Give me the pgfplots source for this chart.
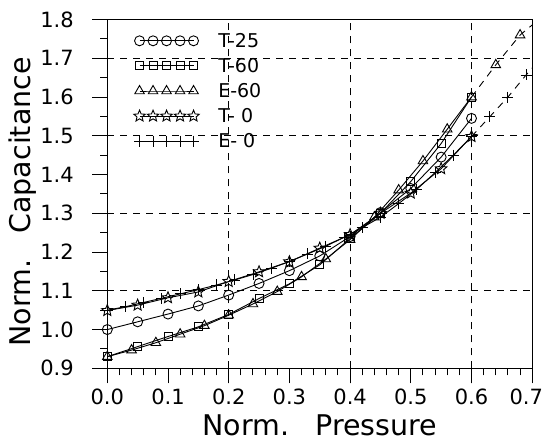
\documentclass[border=0pt]{standalone}
\usepackage{pgfplots}
\pgfplotsset{compat=1.18}
\usepackage{fontspec}
\setmainfont{DejaVu Sans}
\usetikzlibrary{plotmarks,calc}

% open five-pointed star
\pgfdeclareplotmark{ostar}{%
  \pgfpathmoveto{\pgfpointpolar{90}{\pgfplotmarksize}}%
  \pgfpathlineto{\pgfpointpolar{126}{0.45\pgfplotmarksize}}%
  \pgfpathlineto{\pgfpointpolar{162}{\pgfplotmarksize}}%
  \pgfpathlineto{\pgfpointpolar{198}{0.45\pgfplotmarksize}}%
  \pgfpathlineto{\pgfpointpolar{234}{\pgfplotmarksize}}%
  \pgfpathlineto{\pgfpointpolar{270}{0.45\pgfplotmarksize}}%
  \pgfpathlineto{\pgfpointpolar{306}{\pgfplotmarksize}}%
  \pgfpathlineto{\pgfpointpolar{342}{0.45\pgfplotmarksize}}%
  \pgfpathlineto{\pgfpointpolar{18}{\pgfplotmarksize}}%
  \pgfpathlineto{\pgfpointpolar{54}{0.45\pgfplotmarksize}}%
  \pgfpathclose
  \pgfusepathqstroke}

\begin{document}
\begin{tikzpicture}
\begin{axis}[
    scale only axis,
    width=424.9pt, height=348.75pt,
    xmin=0, xmax=0.7, ymin=0.9, ymax=1.8,
    xtick={0,0.1,0.2,0.3,0.4,0.5,0.6,0.7},
    xticklabels={0.0,0.1,0.2,0.3,0.4,0.5,0.6,\hspace*{-12pt}0.7},
    ytick distance=0.1,
    minor x tick num=4, minor y tick num=1,
    xtick pos=left, ytick pos=left,
    tick align=outside,
    major tick length=15pt, minor tick length=7pt,
    every tick/.style={black, line width=1pt},
    axis line style={line width=1.1pt},
    /pgf/number format/assume math mode=true,
    xticklabel style={yshift=-2pt},
    yticklabel style={/pgf/number format/.cd, fixed, fixed zerofill, precision=1, /tikz/.cd, xshift=-15pt},
    tick label style={font=\fontsize{21}{25}\selectfont},
    label style={font=\fontsize{28.5}{34}\selectfont},
    xlabel={Norm.\hspace{0.5em} Pressure},
    ylabel={Norm.\hspace{0.5em} Capacitance},
    xlabel style={at={(axis description cs:0.5,0)}, anchor=center, yshift=-57pt},
    ylabel style={at={(axis description cs:0,0.477)}, anchor=center, yshift=84.3pt},
    extra x ticks={0.2,0.4,0.6},
    extra x tick labels={,,},
    extra y ticks={1.1,1.3,1.5,1.7},
    extra y tick labels={,,,},
    extra tick style={grid=major, major grid style={black, line width=1.1pt, dash pattern=on 7pt off 6pt}},
    legend image code/.code={\draw[mark repeat=1,mark phase=1,#1] plot coordinates {(0pt,0pt) (13.5pt,0pt) (27pt,0pt) (40.5pt,0pt) (54pt,0pt)};},
    legend style={at={(rel axis cs:0.062,0.962)}, anchor=north west, draw=none, fill=none,
        inner sep=0pt, row sep=9.5pt, column sep=19pt, nodes={inner sep=0pt},
        font=\fontsize{19}{22}\selectfont},
    legend cell align=left,
    every axis plot/.append style={black, line width=0.9pt, mark options={solid}},
]
\addplot[mark=o, mark size=5pt] coordinates {
(0,1.00) (0.05,1.02) (0.10,1.04) (0.15,1.061) (0.20,1.089) (0.25,1.119) (0.30,1.152)
(0.35,1.19) (0.40,1.24) (0.45,1.302) (0.50,1.364) (0.55,1.445) (0.60,1.545)};
\addlegendentry{T-25}
\addplot[mark=square, mark size=4pt] coordinates {
(0,0.93) (0.05,0.956) (0.10,0.982) (0.15,1.007) (0.20,1.039) (0.25,1.08) (0.30,1.118)
(0.35,1.167) (0.40,1.235) (0.45,1.30) (0.50,1.382) (0.55,1.48) (0.60,1.60)};
\addlegendentry{T-60}
\addplot[mark=triangle, mark size=5.5pt] coordinates {
(0,0.93) (0.04,0.947) (0.08,0.966) (0.12,0.988) (0.16,1.01) (0.20,1.037) (0.24,1.066)
(0.28,1.098) (0.32,1.136) (0.36,1.182) (0.40,1.232) (0.44,1.29) (0.48,1.36) (0.52,1.435)
(0.56,1.517) (0.60,1.60)};
\addlegendentry{E-60}
\addplot[mark=ostar, mark size=6pt] coordinates {
(0,1.049) (0.05,1.063) (0.10,1.082) (0.15,1.097) (0.20,1.124) (0.25,1.149) (0.30,1.175)
(0.35,1.21) (0.40,1.245) (0.45,1.30) (0.50,1.352) (0.55,1.415) (0.60,1.498)};
\addlegendentry{T- 0}
\addplot[mark=+, mark size=5.5pt] coordinates {
(0,1.05) (0.03,1.059) (0.06,1.07) (0.09,1.081) (0.12,1.092) (0.15,1.103) (0.18,1.115)
(0.21,1.128) (0.24,1.142) (0.27,1.158) (0.30,1.176) (0.33,1.195) (0.36,1.215) (0.39,1.238)
(0.42,1.263) (0.45,1.29) (0.48,1.325) (0.51,1.362) (0.54,1.405) (0.57,1.45) (0.60,1.498)};
\addlegendentry{E- 0}
\addplot[mark=triangle, mark size=5.5pt, dash pattern=on 7pt off 6pt, mark indices={2,3}, forget plot] coordinates {
(0.60,1.60) (0.64,1.683) (0.68,1.76) (0.70,1.786)};
\addplot[mark=+, mark size=5.5pt, dash pattern=on 7pt off 6pt, mark indices={2,3,4}, forget plot] coordinates {
(0.60,1.498) (0.63,1.549) (0.66,1.60) (0.69,1.657) (0.70,1.675)};
\end{axis}
\pgfresetboundingbox
\path[use as bounding box] ($(current axis.south west)+(-107.3pt,-73.7pt)$) rectangle ($(current axis.north east)+(11.8pt,19.55pt)$);
\end{tikzpicture}
\end{document}
